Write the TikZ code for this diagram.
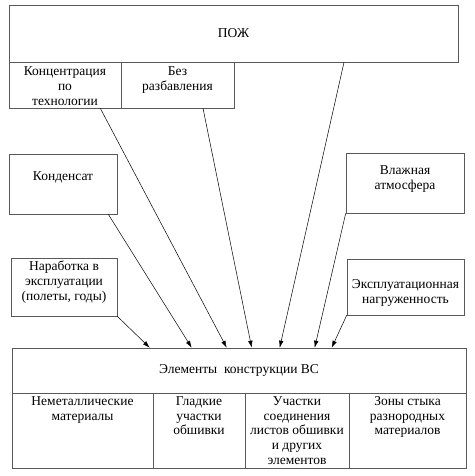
\documentclass[tikz,border=0pt]{standalone}
\usepackage{fontspec}
\setmainfont{Liberation Serif}
\usetikzlibrary{positioning,arrows.meta}

\begin{document}
\begin{tikzpicture}[
	x=1pt, y=-1pt,
	font=\fontsize{13.5}{14.8}\selectfont,
	link/.style={draw=black, line width=0.5pt,
		-{Latex[length=7pt,width=4.5pt]}}]

\tikzstyle{frame} = [
    draw = black!65,
    line width = 0.6pt,
    inner sep = 0pt
]
\tikzstyle{caption} = [
    anchor = north,
    align = center,
    inner sep = 0pt
]

\useasboundingbox (0,0) rectangle (474,476);

% upper block and its two parts
\node [frame, minimum width=449pt, minimum height=57pt] (pozh) at (233.5,33.5) {ПОЖ};
\node [frame, minimum width=112pt, minimum height=46pt] (konc) at (65,85) {};
\node [frame, minimum width=113pt, minimum height=46pt] (bezr) at (177.5,85) {};

% side factors
\node [frame, minimum width=108pt, minimum height=60pt] (kond) at (63,184) {};
\node [frame, minimum width=118pt, minimum height=60pt] (vlag) at (405,183) {};
\node [frame, minimum width=106pt, minimum height=58pt] (narab) at (64,287) {};
\node [frame, minimum width=117pt, minimum height=56pt] (ekspl) at (405.5,287) {};

% lower block and its four parts
\node [frame, minimum width=454pt, minimum height=45pt] (elem) at (239,370.5) {Элементы\ \ конструкции ВС};
\node [frame, minimum width=141pt, minimum height=75pt] (nemet) at (82.5,430.5) {};
\node [frame, minimum width=92pt, minimum height=75pt] (glad) at (199,430.5) {};
\node [frame, minimum width=104pt, minimum height=75pt] (uchast) at (297,430.5) {};
\node [frame, minimum width=117pt, minimum height=75pt] (zony) at (407.5,430.5) {};

% texts
\node [caption, below=5pt of konc.north] (konc-t) {Концентрация\\по\\технологии};
\node [caption, below=5pt of bezr.north] (bezr-t) {Без\\разбавления};
\node [caption, below=18pt of kond.north] (kond-t) {Конденсат};
\node [caption, below=12.5pt of vlag.north] (vlag-t) {Влажная\\атмосфера};
\node [caption, below=3pt of narab.north] (narab-t) {Наработка в\\эксплуатации\\(полеты, годы)};
\node [caption, below=20.5pt of ekspl.north] (ekspl-t) {Эксплуатационная\\нагруженность};
\node [caption, below=3.5pt of nemet.north] (nemet-t) {Неметаллические\\материалы};
\node [caption, below=3.5pt of glad.north] (glad-t) {Гладкие\\участки\\обшивки};
\node [caption, below=3.5pt of uchast.north] (uchast-t) {Участки\\соединения\\листов обшивки\\и других\\элементов};
\node [caption, below=3.5pt of zony.north] (zony-t) {Зоны стыка\\разнородных\\материалов};

% influences
\draw [link] (narab.south east) -- ([xshift=138pt]elem.north west);
\draw [link] ([xshift=-9pt]kond.south east) -- ([xshift=180pt]elem.north west);
\draw [link] ([xshift=-21pt]konc.south east) -- ([xshift=215pt]elem.north west);
\draw [link] ([xshift=25.5pt]bezr.south) -- ([xshift=240pt]elem.north west);
\draw [link] ([xshift=110.5pt]pozh.south) -- ([xshift=268pt]elem.north west);
\draw [link] (vlag.south west) -- ([xshift=303pt]elem.north west);
\draw [link] (ekspl.south west) -- ([xshift=320pt]elem.north west);
\end{tikzpicture}
\end{document}
